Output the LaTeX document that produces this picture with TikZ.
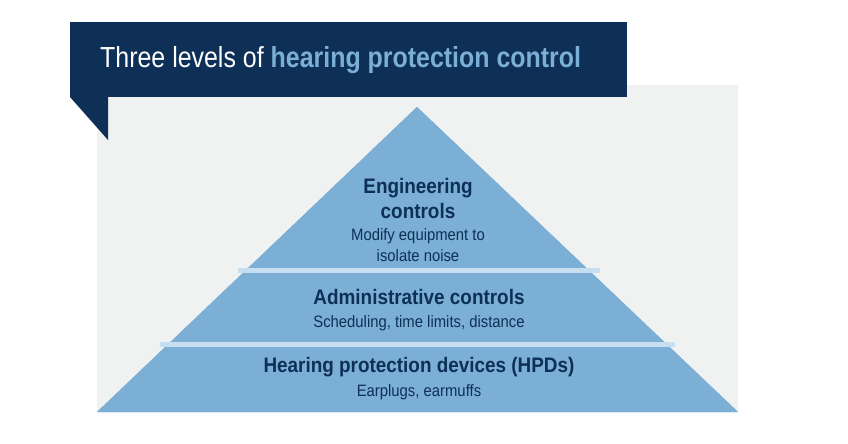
\documentclass[tikz,border=0pt]{standalone}
\usepackage{fontspec}
\setmainfont{Liberation Sans}
\definecolor{navy}{HTML}{0E3057}
\definecolor{pyr}{HTML}{7BAFD6}
\definecolor{sep}{HTML}{C8DFF1}
\definecolor{panel}{HTML}{F0F1F1}
\begin{document}
\begin{tikzpicture}[x=1pt,y=-1pt,
  hd/.style={text=navy,font=\fontsize{21}{23}\selectfont\bfseries,inner sep=0pt},
  sb/.style={text=navy,font=\fontsize{16.5}{20}\selectfont,inner sep=0pt}]
\useasboundingbox (0,0) rectangle (848,444);
\fill[white] (0,0) rectangle (848,444);
\fill[panel] (97,85) rectangle (738,412);
\fill[pyr] (97,412) -- (417,107) -- (738,412) -- cycle;
\fill[sep] (238,268) rectangle (600,273);
\fill[sep] (160,342) rectangle (675,347);
\fill[pyr] (97,412) -- (417,107) -- (738,412) -- cycle;
\begin{scope}
\clip (97,412) -- (417,107) -- (738,412) -- cycle;
\fill[sep] (97,268) rectangle (738,273);
\fill[sep] (97,342) rectangle (738,347);
\end{scope}
\fill[navy] (70,22) rectangle (627,97);
\fill[navy] (70,97) -- (108,140) -- (108,97) -- cycle;
\node[anchor=west,inner sep=0pt] (title) at (100,60) {\scalebox{0.86}[1]{\fontsize{29}{32}\selectfont\color{white}Three levels of \textcolor{pyr}{\bfseries hearing protection control}}};
\node[hd] (e1) at (418,188) {\scalebox{0.9}[1]{Engineering}};
\node[hd] (e2) at (418,211) {\scalebox{0.9}[1]{controls}};
\node[sb] (e3) at (418,236) {\scalebox{0.9}[1]{Modify equipment to}};
\node[sb] (e4) at (418,256) {\scalebox{0.9}[1]{isolate noise}};
\node[hd] (a1) at (419,297) {\scalebox{0.9}[1]{Administrative controls}};
\node[sb] (a2) at (419,323) {\scalebox{0.9}[1]{Scheduling, time limits, distance}};
\node[hd] (h1) at (419,367) {\scalebox{0.9}[1]{Hearing protection devices (HPDs)}};
\node[sb] (h2) at (419,392) {\scalebox{0.9}[1]{Earplugs, earmuffs}};
\end{tikzpicture}
\end{document}
